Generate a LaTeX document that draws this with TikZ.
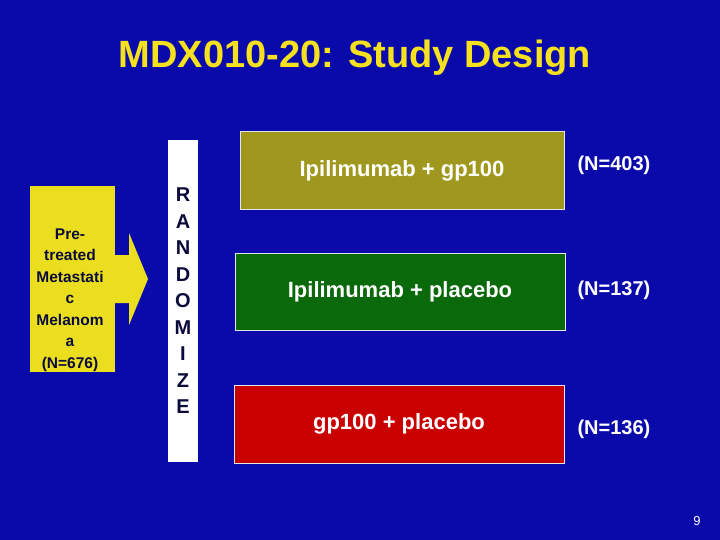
\documentclass[tikz,border=0pt]{standalone}
\usepackage{fontspec}
\setmainfont{Liberation Sans}
\definecolor{bg}{RGB}{10,10,170}
\definecolor{ttl}{RGB}{245,225,30}
\definecolor{ylw}{RGB}{235,222,30}
\definecolor{navy}{RGB}{10,10,60}
\definecolor{gold}{RGB}{160,152,30}
\definecolor{grn}{RGB}{10,105,10}
\definecolor{rd}{RGB}{200,0,0}
\begin{document}
\begin{tikzpicture}[x=1pt,y=-1pt,
  arm/.style={draw=white!80!gray,line width=1pt,text=white,font=\bfseries\fontsize{22}{26}\selectfont,inner sep=0pt},
  nlab/.style={text=white,font=\bfseries\fontsize{20}{24}\selectfont,anchor=west}]
\fill[bg] (0,0) rectangle (720,540);
\useasboundingbox (0,0) rectangle (720,540);
\node (title) at (355,58) {\textcolor{ttl}{\bfseries\fontsize{38}{44}\selectfont MDX010-20: Study Design}};
\fill[ylw] (30,186) rectangle (115,372);
\fill[ylw] (114,255) -- (129,255) -- (129,233) -- (148,279) -- (129,325) -- (129,303) -- (114,303) -- cycle;
\node (pop) at (70,300) [align=center,text=navy,font=\bfseries\fontsize{15.5}{21.5}\selectfont] {Pre-\\treated\\Metastati\\c\\Melanom\\a\\(N=676)};
\node (rand) [fill=white,minimum width=30,minimum height=322,inner sep=0pt,align=center,text=navy,font=\bfseries\fontsize{20}{26.5}\selectfont] at (183,301) {R\\A\\N\\D\\O\\M\\I\\Z\\E};
\node (a1) [arm,fill=gold,minimum width=324,minimum height=78] at (402,171) {Ipilimumab + gp100};
\node (a2) [arm,fill=grn,minimum width=330,minimum height=77] at (400,291.5) {Ipilimumab + placebo};
\node (a3) [arm,fill=rd,minimum width=330,minimum height=78] at (399,424) {gp100 + placebo};
\node (n1) [nlab] at (574,165) {(N=403)};
\node (n2) [nlab] at (574,290) {(N=137)};
\node (n3) [nlab] at (574,429) {(N=136)};
\node (pg) [text=white,font=\fontsize{13}{15}\selectfont] at (697,521) {9};
\end{tikzpicture}
\end{document}
